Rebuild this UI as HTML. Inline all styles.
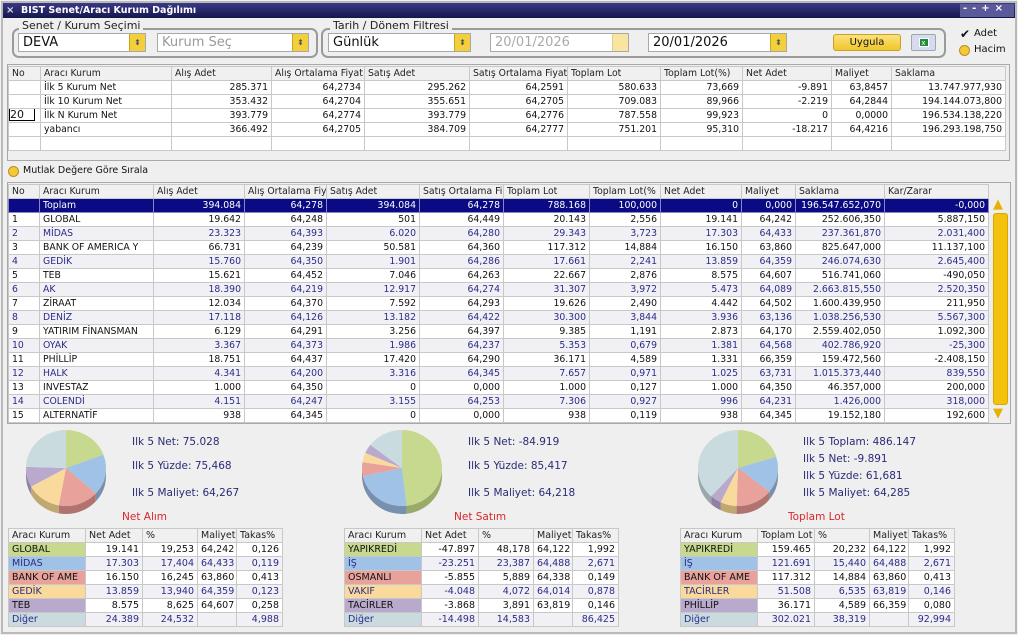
<!DOCTYPE html>
<html><head><meta charset="utf-8">
<style>
*{box-sizing:border-box;margin:0;padding:0}
body{width:1018px;height:635px;background:#efefef;font-family:"DejaVu Sans","Liberation Sans",sans-serif;font-size:9px;color:#111;position:relative;overflow:hidden}
.a{position:absolute}
.tb{left:3px;top:3px;width:1012px;height:15px;background:linear-gradient(#3a3a86,#15154e);color:#fff;font-weight:bold;font-size:9.5px;line-height:15px;padding-left:18px}
.frame{left:1px;top:1px;width:1016px;height:633px;border:2px solid #b9b9b9}
.grp{border:2px solid #9a9a9a;border-radius:7px}
.glab{background:#efefef;font-size:11px;padding:0 3px;color:#222}
.combo{background:#fff;border:1px solid #a8a8a8;font-size:13px;line-height:17px;padding-left:4px;height:19px}
.spin{position:absolute;right:0;top:0;width:16px;height:17px;background:#f3cf3c;border-left:1px solid #c9a520;font-size:8px;text-align:center;line-height:17px;color:#555}
table{border-collapse:collapse;table-layout:fixed;position:absolute}
td{border:1px solid #c8c8c8;height:14px;line-height:13px;padding:0 3px;white-space:nowrap;overflow:hidden}
td.r{text-align:right}
tr.h td{background:#f0f0f0;color:#222;height:14px}
tr.s td{background:#0a0a84;color:#fff;border-color:#8888c0}
tr.e td{background:#f1f1f5;color:#2b2b88}
tr.o td{background:#fff}
.pt{color:#2a2a78;font-size:10.5px}
.red{color:#d8262c;font-size:10.5px}
</style></head><body>
<div class="a frame"></div>
<div class="a tb">BIST Senet/Aracı Kurum Dağılımı</div>
<div class="a" style="left:6px;top:3px;color:#ddd;font-size:10px;line-height:15px;font-weight:bold">×</div>
<div class="a" style="left:960px;top:4px;width:54px;height:13px;background:#5a5a9a"></div>
<div class="a" style="left:963px;top:3px;color:#fff;font-size:10px;font-weight:bold;letter-spacing:5px">--+×</div>

<div class="a grp" style="left:12px;top:28px;width:306px;height:30px"></div>
<div class="a glab" style="left:19px;top:19px">Senet / Kurum Seçimi</div>
<div class="a combo" style="left:18px;top:33px;width:128px">DEVA<div class="spin">⬍</div></div>
<div class="a combo" style="left:157px;top:33px;width:152px;color:#999">Kurum Seç<div class="spin">⬍</div></div>

<div class="a grp" style="left:321px;top:28px;width:625px;height:30px"></div>
<div class="a glab" style="left:330px;top:19px">Tarih / Dönem Filtresi</div>
<div class="a combo" style="left:328px;top:33px;width:143px">Günlük<div class="spin">⬍</div></div>
<div class="a combo" style="left:490px;top:33px;width:139px;color:#aaa">20/01/2026<div class="spin" style="background:#f8e6a0;border-color:#e0d090"></div></div>
<div class="a combo" style="left:648px;top:33px;width:139px">20/01/2026<div class="spin">⬍</div></div>
<div class="a" style="left:833px;top:34px;width:68px;height:17px;background:linear-gradient(#fbe27a,#f0c62a);border:1px solid #c9a02a;border-radius:3px;text-align:center;line-height:15px;font-size:10px">Uygula</div>
<div class="a" style="left:911px;top:34px;width:25px;height:17px;background:#d6dbf0;border:1px solid #9aa;border-radius:2px"><div style="margin:3px auto;width:10px;height:9px;background:#1e8a3a;border:1px solid #fff;color:#fff;font-size:7px;line-height:8px;text-align:center">x</div></div>
<div class="a" style="left:960px;top:27px;font-size:12px;font-weight:bold">✔</div>
<div class="a" style="left:974px;top:28px;font-size:10px">Adet</div>
<div class="a" style="left:959px;top:45px;width:11px;height:11px;border-radius:50%;background:#f3c93a;border:1px solid #b89020"></div>
<div class="a" style="left:974px;top:44px;font-size:10px">Hacim</div>

<div class="a" style="left:7px;top:64px;width:1003px;height:97px;background:#efefef;border:1px solid #a8a8a8"></div>
<div class="a" style="left:8px;top:166px;width:11px;height:11px;border-radius:50%;background:#f3c93a;border:1px solid #b89020"></div>
<div class="a" style="left:23px;top:165px;font-size:9.5px">Mutlak Değere Göre Sırala</div>

<div class="a" style="left:7px;top:182px;width:1004px;height:242px;background:#efefef;border:1px solid #a8a8a8"></div>
<div class="a" style="left:990px;top:198px;width:20px;height:225px;background:#eee"></div>
<div class="a" style="left:993px;top:213px;width:15px;height:192px;background:#f4c20c;border-radius:3px;border:1px solid #d8a800"></div>
<div class="a" style="left:993px;top:197px;color:#e8b000;font-size:13px">▲</div>
<div class="a" style="left:993px;top:406px;color:#e8b000;font-size:13px">▼</div>

<div id="root"></div>
<svg class="a" style="left:0;top:420px" width="1018" height="110" id="pies"></svg>

<div class="a pt" style="left:132px;top:436px">Ilk 5 Net: 75.028</div>
<div class="a pt" style="left:132px;top:460px">Ilk 5 Yüzde: 75,468</div>
<div class="a pt" style="left:132px;top:487px">Ilk 5 Maliyet: 64,267</div>
<div class="a red" style="left:122px;top:511px">Net Alım</div>
<div class="a pt" style="left:468px;top:436px">Ilk 5 Net: -84.919</div>
<div class="a pt" style="left:468px;top:460px">Ilk 5 Yüzde: 85,417</div>
<div class="a pt" style="left:468px;top:487px">Ilk 5 Maliyet: 64,218</div>
<div class="a red" style="left:454px;top:511px">Net Satım</div>
<div class="a pt" style="left:803px;top:436px">Ilk 5 Toplam: 486.147</div>
<div class="a pt" style="left:803px;top:453px">Ilk 5 Net: -9.891</div>
<div class="a pt" style="left:803px;top:470px">Ilk 5 Yüzde: 61,681</div>
<div class="a pt" style="left:803px;top:487px">Ilk 5 Maliyet: 64,285</div>
<div class="a red" style="left:788px;top:511px">Toplam Lot</div>

<script>
function tbl(x,y,widths,rows,fs){
  var W=widths.reduce(function(a,b){return a+b},0);
  var h='<table style="left:'+x+'px;top:'+y+'px;width:'+W+'px;font-size:'+(fs||9)+'px"><colgroup>';
  widths.forEach(function(w){h+='<col style="width:'+w+'px">'});
  h+='</colgroup>';
  rows.forEach(function(r){
    h+='<tr class="'+r.c+'">';
    r.v.forEach(function(v,i){
      var st=(r.bg&&i==0)?' style="background:'+r.bg+'"':'';
      var cl=(r.c!='h'&&i>=r.n)?' class="r"':'';
      h+='<td'+cl+st+'>'+v+'</td>';
    });
    h+='</tr>';
  });
  return h+'</table>';
}
var out='';
var tw=[32,131,100,93,105,98,93,82,89,60,114];
var th=['No','Aracı Kurum','Alış Adet','Alış Ortalama Fiyat','Satış Adet','Satış Ortalama Fiyat','Toplam Lot','Toplam Lot(%)','Net Adet','Maliyet','Saklama'];
var td=[
['','İlk 5 Kurum Net','285.371','64,2734','295.262','64,2591','580.633','73,669','-9.891','63,8457','13.747.977,930'],
['','İlk 10 Kurum Net','353.432','64,2704','355.651','64,2705','709.083','89,966','-2.219','64,2844','194.144.073,800'],
['<span style="display:inline-block;border:1px solid #000;width:26px;height:13px;margin:-1px 0 0 -3px;font-size:11px;line-height:11px;background:#fff;vertical-align:top">20</span>','İlk N Kurum Net','393.779','64,2774','393.779','64,2776','787.558','99,923','0','0,0000','196.534.138,220'],
['','yabancı','366.492','64,2705','384.709','64,2777','751.201','95,310','-18.217','64,4216','196.293.198,750'],
['','','','','','','','','','','']];
var rs=[{c:'h',v:th}];td.forEach(function(r){rs.push({c:'o',v:r,n:2})});
out+=tbl(8,66,tw,rs,9.3);
var mw=[31,114,91,82,93,84,86,71,81,54,89,104];
var mh=['No','Aracı Kurum','Alış Adet','Alış Ortalama Fiy','Satış Adet','Satış Ortalama Fi','Toplam Lot','Toplam Lot(%','Net Adet','Maliyet','Saklama','Kar/Zarar'];
var md=[
['','Toplam','394.084','64,278','394.084','64,278','788.168','100,000','0','0,000','196.547.652,070','-0,000'],
['1','GLOBAL','19.642','64,248','501','64,449','20.143','2,556','19.141','64,242','252.606,350','5.887,150'],
['2','MİDAS','23.323','64,393','6.020','64,280','29.343','3,723','17.303','64,433','237.361,870','2.031,400'],
['3','BANK OF AMERICA Y','66.731','64,239','50.581','64,360','117.312','14,884','16.150','63,860','825.647,000','11.137,100'],
['4','GEDİK','15.760','64,350','1.901','64,286','17.661','2,241','13.859','64,359','246.074,630','2.645,400'],
['5','TEB','15.621','64,452','7.046','64,263','22.667','2,876','8.575','64,607','516.741,060','-490,050'],
['6','AK','18.390','64,219','12.917','64,274','31.307','3,972','5.473','64,089','2.663.815,550','2.520,350'],
['7','ZİRAAT','12.034','64,370','7.592','64,293','19.626','2,490','4.442','64,502','1.600.439,950','211,950'],
['8','DENİZ','17.118','64,126','13.182','64,422','30.300','3,844','3.936','63,136','1.038.256,530','5.567,300'],
['9','YATIRIM FİNANSMAN','6.129','64,291','3.256','64,397','9.385','1,191','2.873','64,170','2.559.402,050','1.092,300'],
['10','OYAK','3.367','64,373','1.986','64,237','5.353','0,679','1.381','64,568','402.786,920','-25,300'],
['11','PHİLLİP','18.751','64,437','17.420','64,290','36.171','4,589','1.331','66,359','159.472,560','-2.408,150'],
['12','HALK','4.341','64,200','3.316','64,345','7.657','0,971','1.025','63,731','1.015.373,440','839,550'],
['13','INVESTAZ','1.000','64,350','0','0,000','1.000','0,127','1.000','64,350','46.357,000','200,000'],
['14','COLENDİ','4.151','64,247','3.155','64,253','7.306','0,927','996','64,231','1.426,000','318,000'],
['15','ALTERNATİF','938','64,345','0','0,000','938','0,119','938','64,345','19.152,180','192,600']];
rs=[{c:'h',v:mh}];
md.forEach(function(r,i){rs.push({c:i==0?'s':(i%2==0?'e':'o'),v:r,n:2})});
out+=tbl(8,184,mw,rs,9.3);
var cols=['#c6d98f','#a0c2e6','#e8a19b','#f9da9c','#b9aacd','#cadbdf'];
function bt(x,hd,data){
  var r=[{c:'h',v:hd}];
  data.forEach(function(d,i){r.push({c:i%2?'e':'o',v:d,n:1,bg:cols[i]})});
  return tbl(x,528,[77,57,55,39,46],r,9.5);
}
out+=bt(8,['Aracı Kurum','Net Adet','%','Maliyet','Takas%'],[
['GLOBAL','19.141','19,253','64,242','0,126'],['MİDAS','17.303','17,404','64,433','0,119'],['BANK OF AME','16.150','16,245','63,860','0,413'],['GEDİK','13.859','13,940','64,359','0,123'],['TEB','8.575','8,625','64,607','0,258'],['Diğer','24.389','24,532','','4,988']]);
out+=bt(344,['Aracı Kurum','Net Adet','%','Maliyet','Takas%'],[
['YAPIKREDİ','-47.897','48,178','64,122','1,992'],['İŞ','-23.251','23,387','64,488','2,671'],['OSMANLI','-5.855','5,889','64,338','0,149'],['VAKIF','-4.048','4,072','64,014','0,878'],['TACİRLER','-3.868','3,891','63,819','0,146'],['Diğer','-14.498','14,583','','86,425']]);
out+=bt(680,['Aracı Kurum','Toplam Lot','%','Maliyet','Takas%'],[
['YAPIKREDİ','159.465','20,232','64,122','1,992'],['İŞ','121.691','15,440','64,488','2,671'],['BANK OF AME','117.312','14,884','63,860','0,413'],['TACİRLER','51.508','6,535','63,819','0,146'],['PHİLLİP','36.171','4,589','66,359','0,080'],['Diğer','302.021','38,319','','92,994']]);
document.getElementById('root').innerHTML=out;
var dark=['#9aaa68','#7890b0','#b07470','#c0a870','#8e80a0','#98a8ac'];
function pie(cx,cy,vals){
  var rx=40,ry=38,d=8,s='';
  var tot=vals.reduce(function(a,b){return a+b},0);
  var a=-Math.PI/2;
  vals.forEach(function(v,i){
    var b=a+v/tot*2*Math.PI;
    var a0=Math.max(a,0),b0=Math.min(b,Math.PI);
    if(b0>a0){
      var x1=cx+rx*Math.cos(a0),y1=cy+ry*Math.sin(a0),x2=cx+rx*Math.cos(b0),y2=cy+ry*Math.sin(b0);
      s+='<path d="M'+x1+' '+y1+' A'+rx+' '+ry+' 0 0 1 '+x2+' '+y2+' L'+x2+' '+(y2+d)+' A'+rx+' '+ry+' 0 0 0 '+x1+' '+(y1+d)+'Z" fill="'+dark[i]+'"/>';
    }
    a=b;
  });
  a=-Math.PI/2;
  vals.forEach(function(v,i){
    var b=a+v/tot*2*Math.PI;
    var x1=cx+rx*Math.cos(a),y1=cy+ry*Math.sin(a),x2=cx+rx*Math.cos(b),y2=cy+ry*Math.sin(b);
    s+='<path d="M'+cx+' '+cy+' L'+x1+' '+y1+' A'+rx+' '+ry+' 0 '+((b-a)>Math.PI?1:0)+' 1 '+x2+' '+y2+'Z" fill="'+cols[i]+'"/>';
    a=b;
  });
  return s;
}
document.getElementById('pies').innerHTML=
 pie(66,48,[19.253,17.404,16.245,13.940,8.625,24.532])+
 pie(402,48,[48.178,23.387,5.889,4.072,3.891,14.583])+
 pie(738,48,[20.232,15.440,14.884,6.535,4.589,38.319]);
</script>
</body></html>
